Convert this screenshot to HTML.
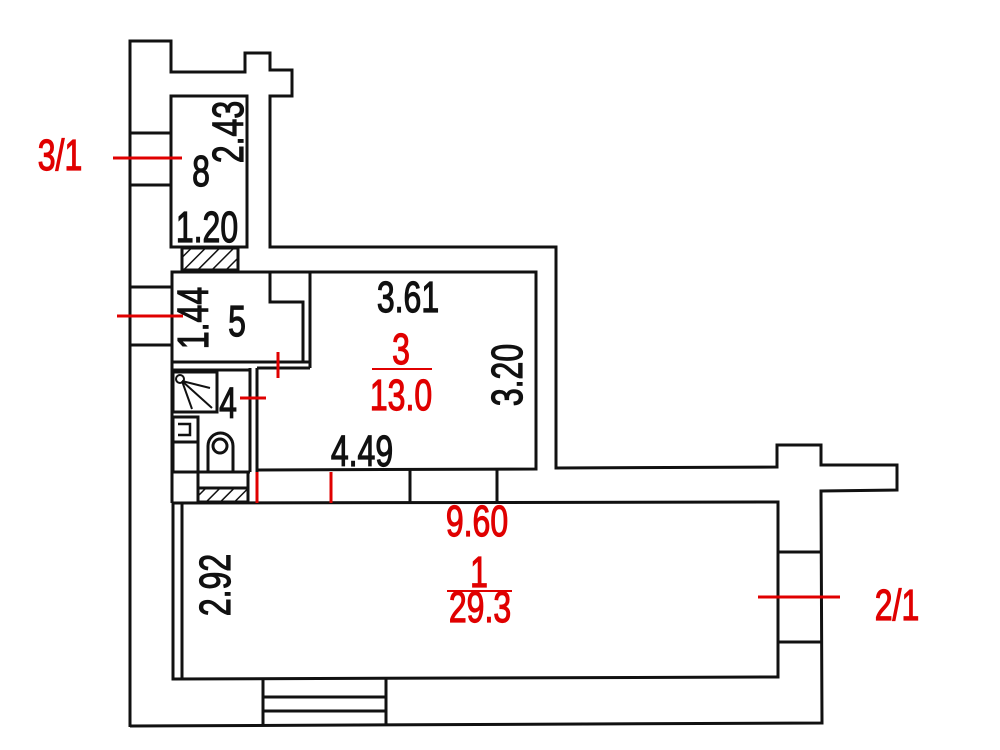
<!DOCTYPE html>
<html><head><meta charset="utf-8"><style>
html,body{margin:0;padding:0;background:#fff;}
svg{display:block}
text{font-family:"Liberation Sans",sans-serif;font-size:32px;stroke-width:0.9px;}
.k{fill:#111;stroke:#111}.r{fill:#e00000;stroke:#e00000}
</style></head><body>
<svg width="1000" height="750" viewBox="0 0 1000 750" xmlns="http://www.w3.org/2000/svg">
<defs>
<pattern id="h" width="10" height="10" patternUnits="userSpaceOnUse" patternTransform="rotate(45)">
<line x1="0" y1="0" x2="0" y2="10" stroke="#111" stroke-width="3"/></pattern>
</defs>
<g fill="none" stroke="#111" stroke-width="3">
<polyline points="130,727 130,41 171,41 171,72 245,72 245,53 270,53 270,70 292,70 292,96 270,96 270,247 556,247 556,468 777,467 777,445 821,445 821,465 897,465 897,490 821,491 822,723 130,726"/>
<line x1="130" y1="133" x2="171" y2="133"/><line x1="130" y1="185" x2="171" y2="185"/>
<line x1="130" y1="287" x2="172" y2="287"/><line x1="130" y1="345" x2="172" y2="345"/>
<rect x="171" y="96" width="76" height="151"/>
<rect x="182" y="248" width="56" height="22" fill="url(#h)"/>
<rect x="172" y="272" width="138" height="90"/>
<polyline points="270,272 270,302 303,302 303,362"/>
<line x1="310" y1="272" x2="310" y2="368"/>
<line x1="257" y1="368" x2="310" y2="368"/>
<polyline points="310,272 536,272 536,469 257,470"/>
<line x1="250" y1="368" x2="250" y2="472"/><line x1="257" y1="368" x2="257" y2="472"/>
<line x1="172" y1="362" x2="172" y2="503"/>
<line x1="173" y1="370" x2="250" y2="370"/>
<rect x="173" y="372" width="44" height="40"/>
<rect x="173" y="417" width="25" height="55"/>
<line x1="173" y1="442" x2="198" y2="442"/>
<polyline points="178,424 190,424 190,435 178,435" stroke-width="2.5"/>
<path d="M208,472 V446 A12.5,13 0 0 1 233,446 V472"/>
<circle cx="220" cy="446" r="7"/>
<line x1="172" y1="472" x2="250" y2="472"/>
<g stroke-width="2"><line x1="182" y1="381" x2="210" y2="388"/><line x1="182" y1="381" x2="212" y2="408"/><line x1="182" y1="381" x2="192" y2="409"/></g>
<circle cx="180" cy="379" r="4" stroke-width="2"/>
<line x1="198" y1="472" x2="198" y2="503"/>
<rect x="198" y="488" width="50" height="14" fill="url(#h)"/>
<line x1="248" y1="472" x2="248" y2="503"/>
<line x1="410" y1="470" x2="410" y2="503"/><line x1="497" y1="470" x2="497" y2="503"/>
<polyline points="173,503 778,502 778,677 173,679 173,503"/>
<line x1="182" y1="503" x2="182" y2="679"/>
<line x1="778" y1="552" x2="822" y2="552"/><line x1="778" y1="642" x2="822" y2="642"/>
<line x1="263" y1="679" x2="263" y2="726"/><line x1="386" y1="678" x2="386" y2="726"/>
<line x1="263" y1="697" x2="386" y2="697"/><line x1="263" y1="711" x2="386" y2="711"/>
</g>
<g stroke="#e00000" stroke-width="3">
<line x1="113" y1="158" x2="182" y2="158"/>
<line x1="117" y1="316" x2="183" y2="316"/>
<line x1="278" y1="352" x2="278" y2="378"/>
<line x1="240" y1="398" x2="266" y2="398"/>
<line x1="257" y1="472" x2="257" y2="503"/><line x1="331" y1="472" x2="331" y2="503"/>
<line x1="758" y1="597" x2="840" y2="597"/>
<line x1="372" y1="369" x2="432" y2="369" stroke-width="2"/>
<line x1="447" y1="591" x2="512" y2="591" stroke-width="2"/>
</g>
<g text-anchor="middle">
<text class="r" transform="translate(60,170) scale(1,1.35)">3/1</text>
<text class="k" transform="translate(201,186) scale(1,1.35)">8</text>
<text class="k" transform="translate(243,132) rotate(-90) scale(1,1.35)">2.43</text>
<text class="k" transform="translate(207,242) scale(1,1.35)">1.20</text>
<text class="k" transform="translate(208,318) rotate(-90) scale(1,1.35)">1.44</text>
<text class="k" transform="translate(237,336) scale(1,1.35)">5</text>
<text class="k" transform="translate(408,312) scale(1,1.35)">3.61</text>
<text class="r" transform="translate(401,364) scale(1,1.35)">3</text>
<text class="r" transform="translate(401,410) scale(1,1.35)">13.0</text>
<text class="k" transform="translate(522,375) rotate(-90) scale(1,1.35)">3.20</text>
<text class="k" transform="translate(228,418) scale(1,1.35)">4</text>
<text class="k" transform="translate(362,466) scale(1,1.35)">4.49</text>
<text class="r" transform="translate(477,536) scale(1,1.35)">9.60</text>
<text class="r" transform="translate(479,587) scale(1,1.35)">1</text>
<text class="r" transform="translate(480,622) scale(1,1.35)">29.3</text>
<text class="k" transform="translate(230,585) rotate(-90) scale(1,1.35)">2.92</text>
<text class="r" transform="translate(897,620) scale(1,1.35)">2/1</text>
</g>
</svg>
</body></html>
